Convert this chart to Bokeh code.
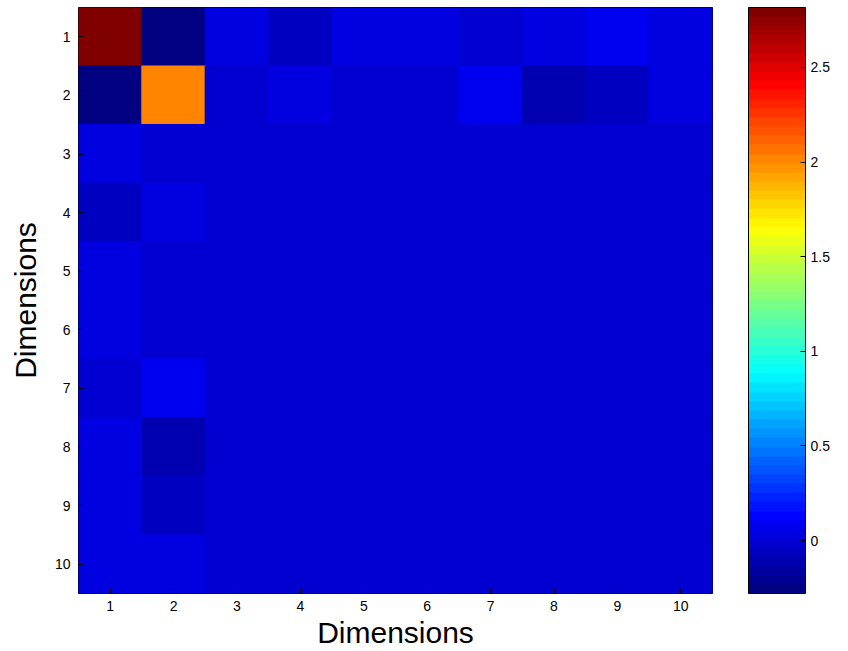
import numpy as np
from bokeh.plotting import figure
from bokeh.models import ColumnDataSource, LinearColorMapper, ColorBar, FixedTicker, NumeralTickFormatter
from bokeh.transform import transform
from bokeh.embed import file_html
from bokeh.resources import INLINE

dims = list(range(1, 11))
row1 = [2.817, -0.26, 0.04, -0.04, 0.03, 0.03, -0.02, 0.03, 0.06, 0.02]
row2 = [-0.28, 2.04, -0.02, 0.05, 0.01, 0.01, 0.08, -0.09, -0.06, 0.02]
row3 = [0.02, -0.03, 0.0, 0.0, 0.0, 0.0, 0.0, 0.0, 0.0, 0.0]
row4 = [-0.07, 0.04, 0.0, 0.0, 0.0, 0.0, 0.0, 0.0, 0.0, 0.0]
row5 = [0.03, 0.0, 0.0, 0.0, 0.0, 0.0, 0.0, 0.0, 0.0, 0.0]
row6 = [0.03, 0.0, 0.0, 0.0, 0.0, 0.0, 0.0, 0.0, 0.0, 0.0]
row7 = [-0.02, 0.08, 0.0, 0.0, 0.0, 0.0, 0.0, 0.0, 0.0, 0.0]
row8 = [0.03, -0.12, 0.0, 0.0, 0.0, 0.0, 0.0, 0.0, 0.0, 0.0]
row9 = [0.04, -0.06, 0.0, 0.0, 0.0, 0.0, 0.0, 0.0, 0.0, 0.0]
row10 = [0.03, 0.03, 0.0, 0.0, 0.0, 0.0, 0.0, 0.0, 0.0, 0.0]
rows = [row1, row2, row3, row4, row5, row6, row7, row8, row9, row10]
cbar_ticks = [0, 0.5, 1, 1.5, 2, 2.5]

# MATLAB jet colormap (64 levels)
def jet(n=64):
    out = []
    for k in range(n):
        x = k / (n - 1)
        r = min(max(1.5 - abs(4 * x - 3), 0), 1)
        g = min(max(1.5 - abs(4 * x - 2), 0), 1)
        b = min(max(1.5 - abs(4 * x - 1), 0), 1)
        out.append("#%02x%02x%02x" % (int(round(r * 255)), int(round(g * 255)), int(round(b * 255))))
    return out

palette = jet(64)

xs, ys, vs = [], [], []
for i, r in enumerate(rows):
    for j, v in enumerate(r):
        xs.append(dims[j]); ys.append(dims[i]); vs.append(v)
src = ColumnDataSource(dict(x=xs, y=ys, v=vs))

vmin = min(vs); vmax = max(vs)
mapper = LinearColorMapper(palette=palette, low=vmin, high=vmax)

FONT = "Liberation Sans"
p = figure(frame_width=634, frame_height=586, x_range=(0.5, 10.5), y_range=(10.5, 0.5),
           output_backend="svg", toolbar_location=None,
           min_border_left=78, min_border_right=136, min_border_top=7, min_border_bottom=58)
p.rect(x="x", y="y", width=1.02, height=1.02, source=src,
       fill_color=transform("v", mapper), line_color=None)

p.grid.visible = False
p.outline_line_color = "black"
p.outline_line_width = 1
for ax in (p.xaxis[0], p.yaxis[0]):
    ax.ticker = FixedTicker(ticks=dims)
    ax.major_tick_in = 5
    ax.major_tick_out = 0
    ax.minor_tick_line_color = None
    ax.axis_line_color = None
    ax.major_label_text_font = FONT
    ax.major_label_text_font_size = "14px"
    ax.major_label_text_color = "black"
    ax.axis_label_text_font = FONT
    ax.axis_label_text_font_size = "30px"
    ax.axis_label_text_font_style = "normal"
    ax.axis_label_text_color = "black"
p.xaxis.axis_label = "Dimensions"
p.yaxis.axis_label = "Dimensions"
p.xaxis.major_label_standoff = 7
p.yaxis.major_label_standoff = 8
p.xaxis.axis_label_standoff = 2
p.yaxis.axis_label_standoff = 10

cb = ColorBar(color_mapper=mapper, width=57, height=586, padding=0, margin=0,
              location=(36, 0),
              ticker=FixedTicker(ticks=cbar_ticks), formatter=NumeralTickFormatter(format="0.[0]"),
              major_label_text_font=FONT, major_label_text_font_size="14px",
              major_label_text_color="black",
              major_tick_in=5, major_tick_out=0, major_tick_line_color="black",
              bar_line_color="black", border_line_color=None, background_fill_color=None,
              label_standoff=5, scale_alpha=1.0)
p.add_layout(cb, "right")

open("out.html", "w").write(file_html(p, INLINE))
